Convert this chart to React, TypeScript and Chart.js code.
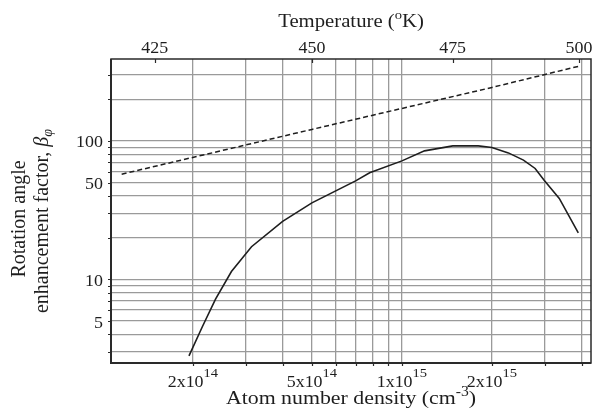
import React, { useEffect, useRef } from 'react';
import { Chart, registerables } from 'chart.js';

Chart.register(...registerables);

// ---- data ----
const densitySolid = [1.94e14, 2.15e14, 2.38e14, 2.69e14, 3.14e14, 3.99e14, 5.0e14, 7.0e14, 7.8e14, 1.0e15, 1.19e15, 1.48e15, 1.8e15, 2.0e15, 2.27e15, 2.55e15, 2.79e15, 2.99e15, 3.36e15, 3.89e15];
const factorSolid = [2.8, 4.55, 7.2, 11.4, 17.2, 26.2, 35.7, 51.4, 58.8, 71.7, 84.7, 92, 92, 89.6, 81.9, 72.6, 63.2, 52, 38.4, 21.7];

const densityDashed = [1.155e14, 5.0e14, 2.0e15, 3.91e15];
const factorDashed = [57.5, 121, 243, 346];

const xGrid = [2e14, 3e14, 4e14, 5e14, 6e14, 7e14, 8e14, 9e14, 1e15, 2e15, 3e15, 4e15];
const yGrid = [3, 4, 5, 6, 7, 8, 9, 10, 20, 30, 40, 50, 60, 70, 80, 90, 100, 200, 300];

const xLabelValues = [2e14, 5e14, 1e15, 2e15];
const xLabelMantissa = ['2', '5', '1', '2'];
const xLabelExponent = ['14', '14', '15', '15'];

const yLabelValues = [5, 10, 50, 100];
const yLabelTexts = ['5', '10', '50', '100'];

const tempLabels = ['425', '450', '475', '500'];
const tempDensity = [1.49e14, 5.0e14, 1.478e15, 3.91e15];

const X_MIN = 1.064e14;
const X_MAX = 4.29e15;
const Y_MIN = 2.49;
const Y_MAX = 390;

// ---- text helpers ----
const SERIF = '"Liberation Serif", "Times New Roman", Times, serif';
const INK = '#1e1e1e';

type Seg = { t: string; size: number; dy?: number; italic?: boolean };

function fontOf(s: Seg) {
  return `${s.italic ? 'italic ' : ''}${s.size}px ${SERIF}`;
}

function drawSegs(ctx: CanvasRenderingContext2D, segs: Seg[], x: number, y: number, align: 'left' | 'center' | 'right', sx: number, rotate = false) {
  ctx.save();
  ctx.translate(x, y);
  if (rotate) ctx.rotate(-Math.PI / 2);
  ctx.scale(sx, 1);
  let total = 0;
  const widths = segs.map((s) => {
    ctx.font = fontOf(s);
    const w = ctx.measureText(s.t).width;
    total += w;
    return w;
  });
  let cx = align === 'center' ? -total / 2 : align === 'right' ? -total : 0;
  ctx.textAlign = 'left';
  ctx.textBaseline = 'alphabetic';
  ctx.fillStyle = INK;
  segs.forEach((s, i) => {
    ctx.font = fontOf(s);
    ctx.fillText(s.t, cx, s.dy || 0);
    cx += widths[i];
  });
  ctx.restore();
}

const SX = 1.12;

const decorPlugin = {
  id: 'decor',
  afterDraw(chart: any) {
    const ctx: CanvasRenderingContext2D = chart.ctx;
    const { left, right, top, bottom } = chart.chartArea;
    const xs = chart.scales.x;
    const ys = chart.scales.y;

    ctx.save();
    // frame
    ctx.strokeStyle = '#2a2a2a';
    ctx.lineWidth = 1.5;
    ctx.strokeRect(left, top, right - left, bottom - top);
    ctx.lineWidth = 2;
    ctx.beginPath();
    ctx.moveTo(left, top);
    ctx.lineTo(left, bottom);
    ctx.lineTo(right, bottom);
    ctx.stroke();

    // small ticks
    ctx.lineWidth = 1.2;
    ctx.strokeStyle = '#2a2a2a';
    ctx.beginPath();
    xGrid.forEach((v) => {
      const px = Math.round(xs.getPixelForValue(v)) + 0.5;
      ctx.moveTo(px, bottom);
      ctx.lineTo(px, bottom + 3);
    });
    yGrid.forEach((v) => {
      const py = Math.round(ys.getPixelForValue(v)) + 0.5;
      ctx.moveTo(left - 3, py);
      ctx.lineTo(left, py);
    });
    tempDensity.forEach((v) => {
      const px = Math.round(xs.getPixelForValue(v)) + 0.5;
      ctx.moveTo(px, top);
      ctx.lineTo(px, top + 4);
    });
    ctx.stroke();
    ctx.restore();

    // bottom tick labels
    xLabelValues.forEach((v, i) => {
      const px = xs.getPixelForValue(v);
      drawSegs(ctx, [
        { t: xLabelMantissa[i] + 'x10', size: 16 },
        { t: xLabelExponent[i], size: 13, dy: -10.5 },
      ], px, bottom + 24, 'center', SX);
    });

    // left tick labels
    yLabelValues.forEach((v, i) => {
      const py = ys.getPixelForValue(v);
      drawSegs(ctx, [{ t: yLabelTexts[i], size: 16 }], left - 8, py + 6.5, 'right', SX);
    });

    // top (temperature) tick labels
    tempDensity.forEach((v, i) => {
      const px = xs.getPixelForValue(v);
      drawSegs(ctx, [{ t: tempLabels[i], size: 16 }], px, top - 6.5, 'center', SX);
    });

    const cxPlot = (left + right) / 2;
    // top title
    drawSegs(ctx, [
      { t: 'Temperature (', size: 18.5 },
      { t: 'o', size: 13, dy: -8 },
      { t: 'K)', size: 18.5 },
    ], cxPlot, 27, 'center', SX);

    // bottom title
    drawSegs(ctx, [
      { t: 'Atom number density (cm', size: 19.5 },
      { t: '-3', size: 14, dy: -8.5 },
      { t: ')', size: 19.5 },
    ], cxPlot, 404, 'center', SX);

    // y title (two lines, rotated)
    drawSegs(ctx, [{ t: 'Rotation angle', size: 20 }], 25, 219, 'center', 1, true);
    drawSegs(ctx, [
      { t: 'enhancement factor, ', size: 20 },
      { t: 'β', size: 20, italic: true },
      { t: 'φ', size: 14, italic: true, dy: 4 },
    ], 48, 221, 'center', 1, true);
  },
};

export default function App() {
  const canvasRef = useRef<HTMLCanvasElement | null>(null);

  useEffect(() => {
    document.body.style.margin = '0';
    const canvas = canvasRef.current;
    if (!canvas) return;

    const solid = densitySolid.map((x, i) => ({ x, y: factorSolid[i] }));
    const dashed = densityDashed.map((x, i) => ({ x, y: factorDashed[i] }));

    const gridStyle = {
      display: true,
      color: '#9a9a9a',
      lineWidth: 1.3,
      drawTicks: false,
    };

    const chart = new Chart(canvas, {
      type: 'line',
      data: {
        datasets: [
          {
            data: solid,
            borderColor: INK,
            borderWidth: 1.6,
            pointRadius: 0,
            fill: false,
            tension: 0,
          },
          {
            data: dashed,
            borderColor: INK,
            borderWidth: 1.5,
            borderDash: [5, 3],
            pointRadius: 0,
            fill: false,
            tension: 0,
          },
        ],
      },
      options: {
        animation: false,
        responsive: false,
        maintainAspectRatio: false,
        devicePixelRatio: 1,
        layout: { padding: { top: 59, right: 2, left: 0, bottom: 0 } },
        plugins: {
          legend: { display: false },
          tooltip: { enabled: false },
          title: { display: false },
        },
        scales: {
          x: {
            type: 'logarithmic',
            position: 'bottom',
            min: X_MIN,
            max: X_MAX,
            afterBuildTicks: (scale: any) => {
              scale.ticks = xGrid.map((value) => ({ value }));
            },
            afterFit: (scale: any) => {
              scale.height = 56;
            },
            ticks: { display: false },
            grid: gridStyle,
            border: { display: false },
          },
          y: {
            type: 'logarithmic',
            position: 'left',
            min: Y_MIN,
            max: Y_MAX,
            afterBuildTicks: (scale: any) => {
              scale.ticks = yGrid.map((value) => ({ value }));
            },
            afterFit: (scale: any) => {
              scale.width = 111;
            },
            ticks: { display: false },
            grid: gridStyle,
            border: { display: false },
          },
        },
      } as any,
      plugins: [decorPlugin],
    });

    return () => {
      chart.destroy();
    };
  }, []);

  return (
    <div style={{ width: 593, height: 419, position: 'relative', background: '#fff' }}>
      <canvas ref={canvasRef} width={593} height={419} style={{ width: 593, height: 419, display: 'block' }} />
    </div>
  );
}
